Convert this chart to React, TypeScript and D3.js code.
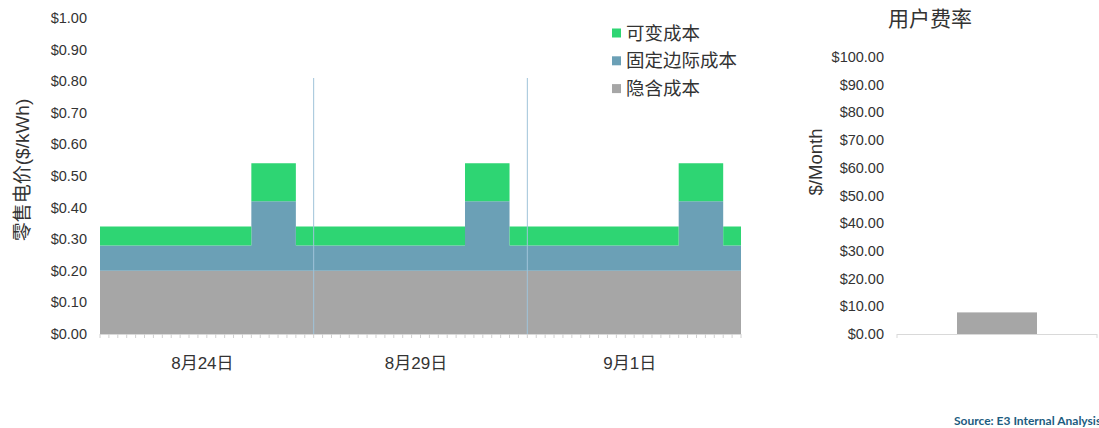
import React from "react";
import * as d3 from "d3";

// ---- Data ----
const dayLabels = ["8月24日", "8月29日", "9月1日"];
const seriesNames = ["可变成本", "固定边际成本", "隐含成本"];
const seriesColors = ["#2ed573", "#6ba0b6", "#a6a6a6"];

// hourly values ($/kWh), 3 days x 24 hours
const embeddedCost = [
  0.2, 0.2, 0.2, 0.2, 0.2, 0.2, 0.2, 0.2, 0.2, 0.2, 0.2, 0.2, 0.2, 0.2, 0.2, 0.2, 0.2, 0.2, 0.2, 0.2, 0.2, 0.2, 0.2, 0.2,
  0.2, 0.2, 0.2, 0.2, 0.2, 0.2, 0.2, 0.2, 0.2, 0.2, 0.2, 0.2, 0.2, 0.2, 0.2, 0.2, 0.2, 0.2, 0.2, 0.2, 0.2, 0.2, 0.2, 0.2,
  0.2, 0.2, 0.2, 0.2, 0.2, 0.2, 0.2, 0.2, 0.2, 0.2, 0.2, 0.2, 0.2, 0.2, 0.2, 0.2, 0.2, 0.2, 0.2, 0.2, 0.2, 0.2, 0.2, 0.2,
];
const fixedMarginalCost = [
  0.08, 0.08, 0.08, 0.08, 0.08, 0.08, 0.08, 0.08, 0.08, 0.08, 0.08, 0.08, 0.08, 0.08, 0.08, 0.08, 0.08, 0.22, 0.22, 0.22, 0.22, 0.22, 0.08, 0.08,
  0.08, 0.08, 0.08, 0.08, 0.08, 0.08, 0.08, 0.08, 0.08, 0.08, 0.08, 0.08, 0.08, 0.08, 0.08, 0.08, 0.08, 0.22, 0.22, 0.22, 0.22, 0.22, 0.08, 0.08,
  0.08, 0.08, 0.08, 0.08, 0.08, 0.08, 0.08, 0.08, 0.08, 0.08, 0.08, 0.08, 0.08, 0.08, 0.08, 0.08, 0.08, 0.22, 0.22, 0.22, 0.22, 0.22, 0.08, 0.08,
];
const variableCost = [
  0.06, 0.06, 0.06, 0.06, 0.06, 0.06, 0.06, 0.06, 0.06, 0.06, 0.06, 0.06, 0.06, 0.06, 0.06, 0.06, 0.06, 0.12, 0.12, 0.12, 0.12, 0.12, 0.06, 0.06,
  0.06, 0.06, 0.06, 0.06, 0.06, 0.06, 0.06, 0.06, 0.06, 0.06, 0.06, 0.06, 0.06, 0.06, 0.06, 0.06, 0.06, 0.12, 0.12, 0.12, 0.12, 0.12, 0.06, 0.06,
  0.06, 0.06, 0.06, 0.06, 0.06, 0.06, 0.06, 0.06, 0.06, 0.06, 0.06, 0.06, 0.06, 0.06, 0.06, 0.06, 0.06, 0.12, 0.12, 0.12, 0.12, 0.12, 0.06, 0.06,
];
const leftTicks = [0, 0.1, 0.2, 0.3, 0.4, 0.5, 0.6, 0.7, 0.8, 0.9, 1.0];

const customerCharge = [7.8];
const rightTicks = [0, 10, 20, 30, 40, 50, 60, 70, 80, 90, 100];

const LATIN = "'Liberation Sans', Arial, 'Noto Sans CJK SC', sans-serif";
const TEXT = "#333333";

export default function App() {
  const W = 1099;
  const H = 428;
  const nHours = embeddedCost.length;

  // Left chart scales
  const x = d3.scaleLinear().domain([0, nHours]).range([100, 741]);
  const y = d3.scaleLinear().domain([0, 1]).range([334, 18]);

  const rows = d3.range(nHours).map((i) => ({
    h: i,
    emb: embeddedCost[i],
    fix: fixedMarginalCost[i],
    vari: variableCost[i],
  }));
  const rowsExt = [...rows, { ...rows[rows.length - 1], h: nHours }];
  const stack = d3.stack<any>().keys(["emb", "fix", "vari"]);
  const stacked = stack(rowsExt);
  const area = d3
    .area<any>()
    .x((d) => x(d.data.h))
    .y0((d) => y(d[0]))
    .y1((d) => y(d[1]))
    .curve(d3.curveStepAfter);
  const keyColor: Record<string, string> = {
    emb: seriesColors[2],
    fix: seriesColors[1],
    vari: seriesColors[0],
  };

  // Right chart scales
  const y2 = d3.scaleLinear().domain([0, 100]).range([334, 57]);
  const x2 = d3.scaleBand().domain(["rate"]).range([897, 1097]).paddingInner(0.5).paddingOuter(0.375);

  const hourTicks = d3.range(0, nHours + 1);

  return (
    <svg
      width={W}
      height={H}
      style={{ position: "absolute", left: 0, top: 0, background: "#ffffff" }}
      fontFamily={LATIN}
    >
      {/* stacked areas */}
      {stacked.map((s) => (
        <path key={s.key} d={area(s) || ""} fill={keyColor[s.key]} />
      ))}

      {/* day dividers */}
      {[24, 48].map((h) => (
        <line key={h} x1={x(h)} x2={x(h)} y1={78} y2={y(0)} stroke="#9fc3d9" strokeWidth={1} />
      ))}

      {/* x axis */}
      <line x1={x(0)} x2={x(nHours)} y1={y(0) + 0.5} y2={y(0) + 0.5} stroke="#d9d9d9" />
      {hourTicks.map((h) => (
        <line key={h} x1={x(h)} x2={x(h)} y1={y(0)} y2={y(0) + 4} stroke="#d0d0d0" />
      ))}
      {dayLabels.map((lab, i) => (
        <text
          key={lab}
          x={x(i * 24 + 11.5)}
          y={363}
          textAnchor="middle"
          dominantBaseline="central"
          fontSize={17}
          fill={TEXT}
        >
          {lab}
        </text>
      ))}

      {/* left y ticks */}
      {leftTicks.map((t) => (
        <text
          key={t}
          x={87}
          y={y(t)}
          textAnchor="end"
          dominantBaseline="central"
          fontSize={14.5}
          fill={TEXT}
        >
          {"$" + t.toFixed(2)}
        </text>
      ))}
      <text
        transform={`translate(22,170) rotate(-90)`}
        textAnchor="middle"
        dominantBaseline="central"
        fontSize={19}
        fill={TEXT}
      >
        零售电价($/kWh)
      </text>

      {/* legend */}
      {seriesNames.map((name, i) => (
        <g key={name} transform={`translate(612,${33 + i * 27.8})`}>
          <rect x={0} y={-4.5} width={9} height={9} fill={seriesColors[i]} />
          <text x={14} y={0} dominantBaseline="central" fontSize={18.5} fill={TEXT}>
            {name}
          </text>
        </g>
      ))}

      {/* right chart */}
      <text x={930} y={18} textAnchor="middle" dominantBaseline="central" fontSize={21} fill={TEXT}>
        用户费率
      </text>
      {rightTicks.map((t) => (
        <text
          key={t}
          x={884}
          y={y2(t)}
          textAnchor="end"
          dominantBaseline="central"
          fontSize={14.5}
          fill={TEXT}
        >
          {"$" + t.toFixed(2)}
        </text>
      ))}
      <text
        transform={`translate(815,162) rotate(-90)`}
        textAnchor="middle"
        dominantBaseline="central"
        fontSize={18.5}
        fill={TEXT}
      >
        $/Month
      </text>
      {customerCharge.map((v, i) => (
        <rect
          key={i}
          x={x2("rate")}
          y={y2(v)}
          width={x2.bandwidth()}
          height={y2(0) - y2(v)}
          fill={seriesColors[2]}
        />
      ))}
      <line x1={897} x2={1097} y1={334.5} y2={334.5} stroke="#d9d9d9" />
      <line x1={897} x2={897} y1={334} y2={338} stroke="#d9d9d9" />
      <line x1={1097} x2={1097} y1={334} y2={338} stroke="#d9d9d9" />

      {/* source */}
      <text
        x={954}
        y={420}
        dominantBaseline="central"
        fontSize={12}
        fontWeight="bold"
        fill="#1d5c80"
        fontFamily="Lato, 'Open Sans', sans-serif"
      >
        Source: E3 Internal Analysis
      </text>
    </svg>
  );
}
